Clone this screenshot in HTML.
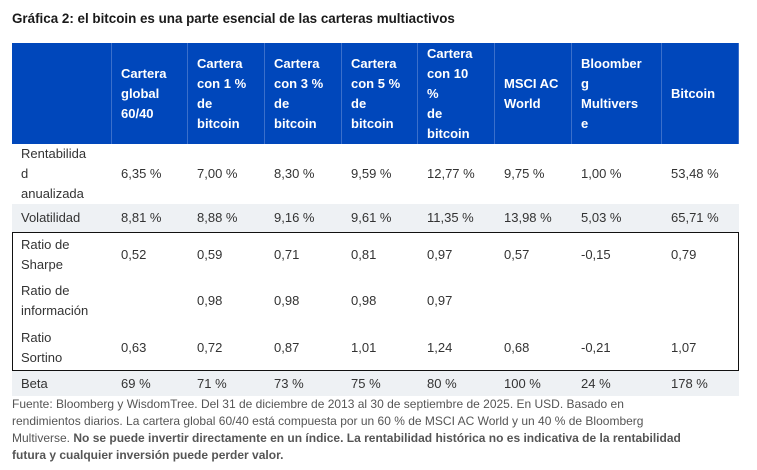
<!DOCTYPE html>
<html><head><meta charset="utf-8">
<style>
body{margin:0;width:757px;height:470px;background:#fff;font-family:"Liberation Sans",Arial,sans-serif;position:relative;overflow:hidden}
.t{position:absolute;left:12px;top:11px;font-size:13.4px;font-weight:bold;color:#1a1a1a}
.c{position:absolute;display:flex;align-items:center;padding-left:9px;box-sizing:border-box;font-size:13px;line-height:20px;color:#333}
.h{background:#0047bb;color:#fff;font-weight:bold;border-right:1px solid #3a6fcb}
.g{background:#eef1f4}
.box{position:absolute;left:12px;top:232px;width:727px;height:139px;border:1px solid #111;box-sizing:border-box}
.f{position:absolute;left:12px;top:396px;width:745px;font-size:12px;line-height:17px;color:#555;white-space:nowrap}
.f b{color:#555}
</style></head><body>
<div class="t">Gráfica 2: el bitcoin es una parte esencial de las carteras multiactivos</div>
<div id="tbl"></div>
<div class="box"></div>
<div class="f">Fuente: Bloomberg y WisdomTree. Del 31 de diciembre de 2013 al 30 de septiembre de 2025. En USD. Basado en<br>rendimientos diarios. La cartera global 60/40 está compuesta por un 60 % de MSCI AC World y un 40 % de Bloomberg<br>Multiverse. <b>No se puede invertir directamente en un índice. La rentabilidad histórica no es indicativa de la rentabilidad<br>futura y cualquier inversión puede perder valor.</b></div>
<script>
const colX=[12,112,188,265,342,418,495,572,662,739];
const headers=["","Cartera<br>global<br>60/40","Cartera<br>con 1 %<br>de<br>bitcoin","Cartera<br>con 3 %<br>de<br>bitcoin","Cartera<br>con 5 %<br>de<br>bitcoin","Cartera<br>con 10<br>%<br>de<br>bitcoin","MSCI AC<br>World","Bloomber<br>g<br>Multivers<br>e","Bitcoin"];
const rowLabels=["Rentabilida<br>d<br>anualizada","Volatilidad","Ratio de<br>Sharpe","Ratio de<br>información","Ratio<br>Sortino","Beta"];
const rowVals=[
["6,35 %","7,00 %","8,30 %","9,59 %","12,77 %","9,75 %","1,00 %","53,48 %"],
["8,81 %","8,88 %","9,16 %","9,61 %","11,35 %","13,98 %","5,03 %","65,71 %"],
["0,52","0,59","0,71","0,81","0,97","0,57","-0,15","0,79"],
["","0,98","0,98","0,98","0,97","","",""],
["0,63","0,72","0,87","1,01","1,24","0,68","-0,21","1,07"],
["69 %","71 %","73 %","75 %","80 %","100 %","24 %","178 %"]];
const rowY=[144,204,232,278,324,371,396];
const gray=[false,true,false,false,false,true];
const tbl=document.getElementById('tbl');
function cell(x,y,w,h,html,cls){const d=document.createElement('div');d.className='c '+cls;d.style.left=x+'px';d.style.top=y+'px';d.style.width=w+'px';d.style.height=h+'px';d.innerHTML='<span>'+html+'</span>';tbl.appendChild(d);return d;}
headers.forEach((t,i)=>{const d=cell(colX[i],43,colX[i+1]-colX[i],101,t,'h');

});
rowLabels.forEach((lab,r)=>{const y=rowY[r],h=rowY[r+1]-y,cls=gray[r]?'g':'';
const d=cell(colX[0],y,colX[1]-colX[0],h,lab,cls);


rowVals[r].forEach((v,i)=>{const e=cell(colX[i+1],y,colX[i+2]-colX[i+1],h,v,cls);

});});
</script>
</body></html>
